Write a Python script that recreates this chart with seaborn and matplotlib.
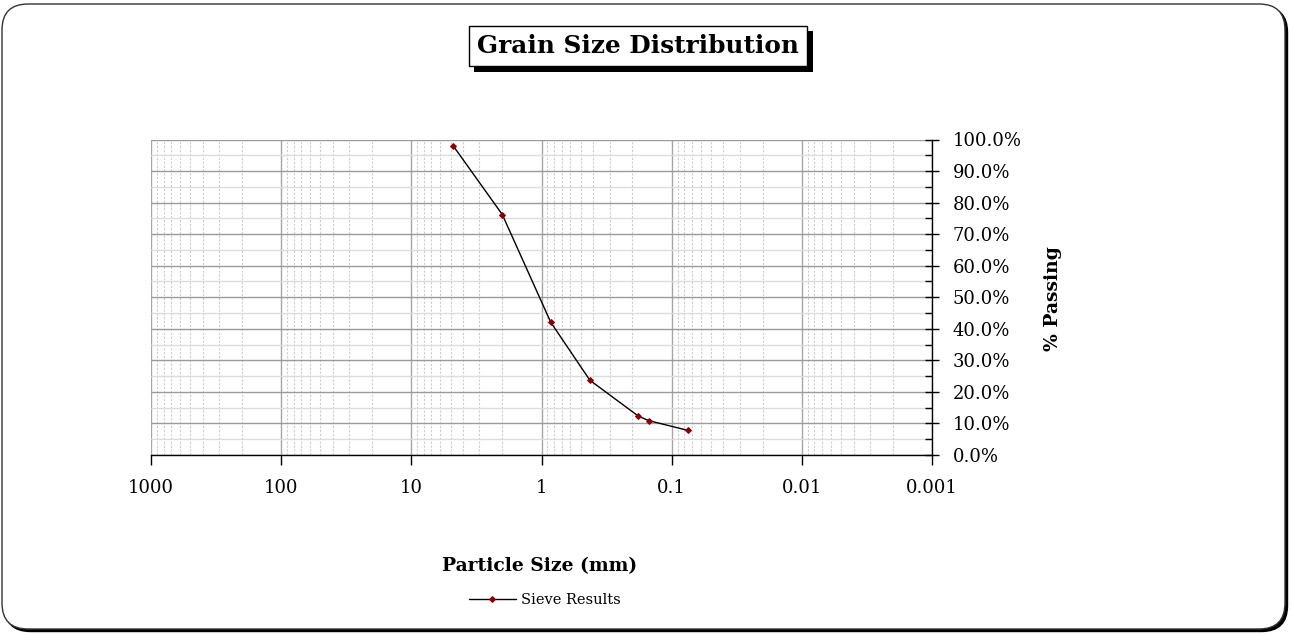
import matplotlib
matplotlib.use("Agg")
import matplotlib.pyplot as plt
import matplotlib.ticker as mticker
import matplotlib.patheffects as pe
from matplotlib.patches import FancyBboxPatch
import numpy as np
import pandas as pd
import seaborn as sns

# Sieve analysis results
sieve_size_mm = [4.75, 2.0, 0.85, 0.425, 0.18, 0.15, 0.075]
percent_passing = [97.9, 76.2, 42.1, 23.7, 12.3, 10.9, 7.8]
series_label = "Sieve Results"

x_tick_values = [1000, 100, 10, 1, 0.1, 0.01, 0.001]
x_tick_labels = ["1000", "100", "10", "1", "0.1", "0.01", "0.001"]

title_text = "Grain Size Distribution"
x_label = "Particle Size (mm)"
y_label = "% Passing"

df = pd.DataFrame({"size": sieve_size_mm, "passing": percent_passing})

sns.set_theme(style="white")
plt.rcParams["font.family"] = ["DejaVu Serif"]
for key in ("text.color", "axes.labelcolor", "xtick.color", "ytick.color"):
    plt.rcParams[key] = "black"

W, H = 1291, 635
fig = plt.figure(figsize=(W / 100, H / 100), dpi=100)
fig.patch.set_facecolor("white")

# Background canvas in pixel coordinates for the rounded frame
bg = fig.add_axes([0, 0, 1, 1], zorder=-5)
bg.set_xlim(0, W)
bg.set_ylim(H, 0)
bg.axis("off")
shadow = FancyBboxPatch((4.5, 6.5), W - 8, H - 10,
                        boxstyle="round,pad=0,rounding_size=26",
                        fc="black", ec="black", lw=1)
frame = FancyBboxPatch((2, 4), W - 8, H - 10,
                       boxstyle="round,pad=0,rounding_size=26",
                       fc="white", ec="#333333", lw=1.0)
bg.add_patch(shadow)
bg.add_patch(frame)

# Plot area
left_px, right_px, top_px, bottom_px = 151, 932, 139.5, 455
ax = fig.add_axes([left_px / W, 1 - bottom_px / H,
                   (right_px - left_px) / W, (bottom_px - top_px) / H])
ax.set_facecolor("white")

sns.lineplot(data=df, x="size", y="passing", ax=ax, color="black",
             linewidth=1.0, marker="D", markersize=3,
             markerfacecolor="#8b0000", markeredgecolor="#8b0000",
             label=series_label, sort=False)

ax.set_xscale("log")
ax.set_xlim(1000, 0.001)
ax.set_ylim(0, 100)

ax.xaxis.set_major_locator(mticker.FixedLocator(x_tick_values))
ax.xaxis.set_major_formatter(mticker.FixedFormatter(x_tick_labels))
ax.xaxis.set_minor_locator(mticker.LogLocator(base=10, subs=np.arange(2, 10), numticks=100))
ax.xaxis.set_minor_formatter(mticker.NullFormatter())

ax.yaxis.set_major_locator(mticker.MultipleLocator(10))
ax.yaxis.set_minor_locator(mticker.MultipleLocator(5))
ax.yaxis.set_major_formatter(mticker.PercentFormatter(100, decimals=1))
ax.yaxis.tick_right()
ax.yaxis.set_label_position("right")

# Grid lines
ax.xaxis.grid(True, which="major", color="#a6a6a6", lw=1.0, ls="-")
ax.xaxis.grid(True, which="minor", color="#cccccc", lw=0.8, ls=(0, (2, 1.5)))
ax.yaxis.grid(True, which="major", color="#9a9a9a", lw=1.0, ls="-")
ax.yaxis.grid(True, which="minor", color="#dcdcdc", lw=1.0, ls="-")
ax.set_axisbelow(True)

for side in ("left", "top"):
    ax.spines[side].set_visible(False)
for side in ("right", "bottom"):
    ax.spines[side].set_visible(True)
    ax.spines[side].set_color("black")
    ax.spines[side].set_linewidth(1.0)

ax.tick_params(axis="x", which="major", direction="out", length=7, width=1,
               color="black", labelsize=13, pad=10, bottom=True)
ax.tick_params(axis="x", which="minor", length=0)
ax.tick_params(axis="y", which="major", direction="inout", length=10, width=1,
               color="black", labelsize=13, pad=10, right=True, left=False)
ax.tick_params(axis="y", which="minor", direction="in", length=5, width=1,
               color="black", right=True, left=False)

ax.set_xlabel(x_label, fontsize=13.5, fontweight="bold")
ax.xaxis.set_label_coords(0.498, -0.322)
ax.set_ylabel(y_label, fontsize=13.5, fontweight="bold")
ax.yaxis.set_label_coords(1.143, 0.497)

ax.legend(loc="center", bbox_to_anchor=(545 / W, 1 - 600 / H),
          bbox_transform=fig.transFigure, frameon=False, fontsize=10.5,
          handlelength=3.2, handletextpad=0.4)

# Boxed title with a drop shadow
t = fig.text(638 / W, 1 - 46 / H, title_text, ha="center", va="center",
             fontsize=17.8, fontweight="bold",
             bbox=dict(boxstyle="square,pad=0.33", fc="white", ec="black", lw=1))
t.get_bbox_patch().set_path_effects([
    pe.SimplePatchShadow(offset=(4, -4), shadow_rgbFace="black", alpha=1.0),
    pe.Normal(),
])

fig.savefig("out.png", dpi=100, facecolor="white")
